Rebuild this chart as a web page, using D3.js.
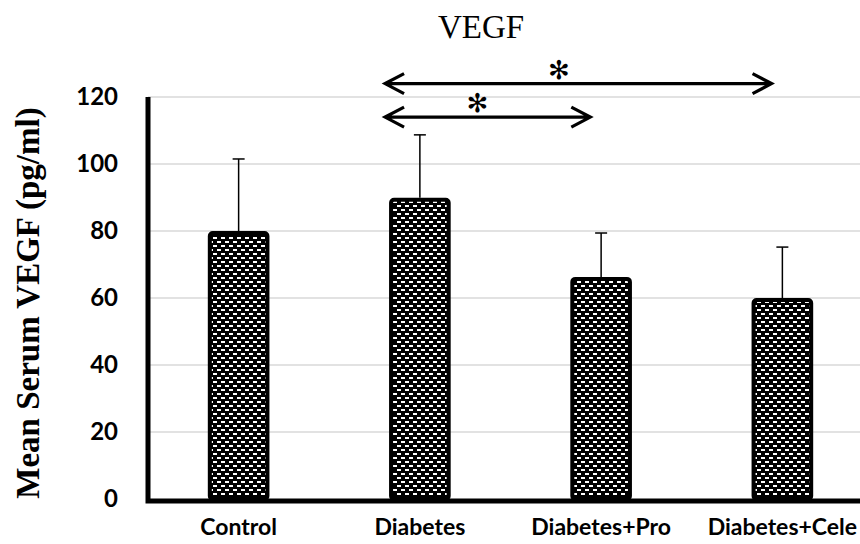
<!DOCTYPE html>
<html>
<head>
<meta charset="utf-8">
<script src="https://cdn.jsdelivr.net/npm/d3@7"></script>
<style>
  body { margin: 0; background: #fff; }
  svg { display: block; }
</style>
</head>
<body>
<svg id="chart" width="860" height="544"></svg>
<script>
const categories = ["Control", "Diabetes", "Diabetes+Pro", "Diabetes+Cele"];
const means = [79.4, 89.3, 65.7, 59.4];
const errors = [22.1, 19.4, 13.7, 15.8];
const yTicks = [0, 20, 40, 60, 80, 100, 120];
const comparisons = [
  { from: "Diabetes", to: "Diabetes+Pro", level: 114, mark: "✻" },
  { from: "Diabetes", to: "Diabetes+Cele", level: 124, mark: "✻" }
];

function drawChart() {
  const svg = d3.select("#chart");
  const width = +svg.attr("width");

  const margin = { left: 148, right: -13, top: 97, bottom: 45 };
  const plotBottom = 499;

  const x = d3.scaleBand()
    .domain(categories)
    .range([margin.left, width - margin.right])
    .paddingInner(0.66)
    .paddingOuter(0.33);

  const y = d3.scaleLinear()
    .domain([0, 120])
    .range([plotBottom, margin.top]);

  const defs = svg.append("defs");
  const pat = defs.append("pattern")
    .attr("id", "brick")
    .attr("patternUnits", "userSpaceOnUse")
    .attr("width", 8)
    .attr("height", 8);
  pat.append("rect").attr("width", 8).attr("height", 8).attr("fill", "#000");
  pat.append("rect").attr("x", 1).attr("y", 1).attr("width", 4).attr("height", 2).attr("fill", "#fff");
  pat.append("rect").attr("x", 5).attr("y", 5).attr("width", 4).attr("height", 2).attr("fill", "#fff");
  pat.append("rect").attr("x", -3).attr("y", 5).attr("width", 4).attr("height", 2).attr("fill", "#fff");

  // gridlines
  svg.append("g")
    .selectAll("line")
    .data(yTicks.filter(d => d > 0))
    .enter().append("line")
    .attr("x1", margin.left)
    .attr("x2", width)
    .attr("y1", d => y(d))
    .attr("y2", d => y(d))
    .attr("stroke", "#d9d9d9")
    .attr("stroke-width", 1.5);

  // tick labels
  svg.append("g")
    .selectAll("text")
    .data(yTicks)
    .enter().append("text")
    .attr("x", 118)
    .attr("y", d => y(d))
    .attr("dy", "0.35em")
    .attr("text-anchor", "end")
    .style("font-family", "Lato, 'Open Sans', sans-serif")
    .style("font-weight", "bold")
    .style("font-size", "24px")
    .text(d => d);

  // bars
  svg.append("g")
    .selectAll("rect")
    .data(categories)
    .enter().append("rect")
    .attr("x", d => x(d) + 2)
    .attr("width", x.bandwidth() - 4)
    .attr("y", (d, i) => y(means[i]))
    .attr("height", (d, i) => y(0) - y(means[i]))
    .attr("rx", 3)
    .attr("fill", "url(#brick)")
    .attr("stroke", "#000")
    .attr("stroke-width", 4);

  // error bars (upper only)
  const err = svg.append("g")
    .selectAll("g")
    .data(categories)
    .enter().append("g");
  err.append("line")
    .attr("x1", d => x(d) + x.bandwidth() / 2)
    .attr("x2", d => x(d) + x.bandwidth() / 2)
    .attr("y1", (d, i) => y(means[i]) - 2)
    .attr("y2", (d, i) => y(means[i] + errors[i]))
    .attr("stroke", "#000")
    .attr("stroke-width", 1.5);
  err.append("line")
    .attr("x1", d => x(d) + x.bandwidth() / 2 - 6)
    .attr("x2", d => x(d) + x.bandwidth() / 2 + 6)
    .attr("y1", (d, i) => y(means[i] + errors[i]))
    .attr("y2", (d, i) => y(means[i] + errors[i]))
    .attr("stroke", "#000")
    .attr("stroke-width", 1.5);

  // axes lines
  svg.append("path")
    .attr("d", `M${margin.left},${margin.top}V${plotBottom + 2}H${width}`)
    .attr("fill", "none")
    .attr("stroke", "#000")
    .attr("stroke-width", 5);

  // category labels
  svg.append("g")
    .selectAll("text")
    .data(categories)
    .enter().append("text")
    .attr("x", d => x(d) + x.bandwidth() / 2)
    .attr("y", 535)
    .attr("text-anchor", "middle")
    .style("font-family", "Lato, 'Open Sans', sans-serif")
    .style("font-weight", "bold")
    .style("font-size", "23px")
    .text(d => d);

  // y axis title
  svg.append("text")
    .attr("transform", `translate(39,303) rotate(-90)`)
    .attr("text-anchor", "middle")
    .style("font-family", "'Liberation Serif', 'Times New Roman', serif")
    .style("font-weight", "bold")
    .style("font-size", "33px")
    .text("Mean Serum VEGF (pg/ml)");

  // chart title
  svg.append("text")
    .attr("x", 481)
    .attr("y", 38)
    .attr("text-anchor", "middle")
    .style("font-family", "'Liberation Serif', 'Times New Roman', serif")
    .style("font-size", "33px")
    .text("VEGF");

  // significance arrows
  const arrows = svg.append("g");
  comparisons.forEach(c => {
    const x1 = x(c.from) - 4;
    const x2 = x(c.to) + 20;
    const yy = y(c.level);
    arrows.append("path")
      .attr("d", `M${x1},${yy}H${x2}M${x1 + 19},${yy - 10}L${x1},${yy}L${x1 + 19},${yy + 10}M${x2 - 19},${yy - 10}L${x2},${yy}L${x2 - 19},${yy + 10}`)
      .attr("fill", "none")
      .attr("stroke", "#000")
      .attr("stroke-width", 3.2);
    arrows.append("text")
      .attr("x", x1 + (x2 - x1) * 0.45)
      .attr("y", yy - 14)
      .attr("dy", "0.35em")
      .attr("text-anchor", "middle")
      .style("font-family", "'DejaVu Sans', sans-serif")
      .style("font-size", "26px")
      .text(c.mark);
  });
}

drawChart();
</script>
</body>
</html>
